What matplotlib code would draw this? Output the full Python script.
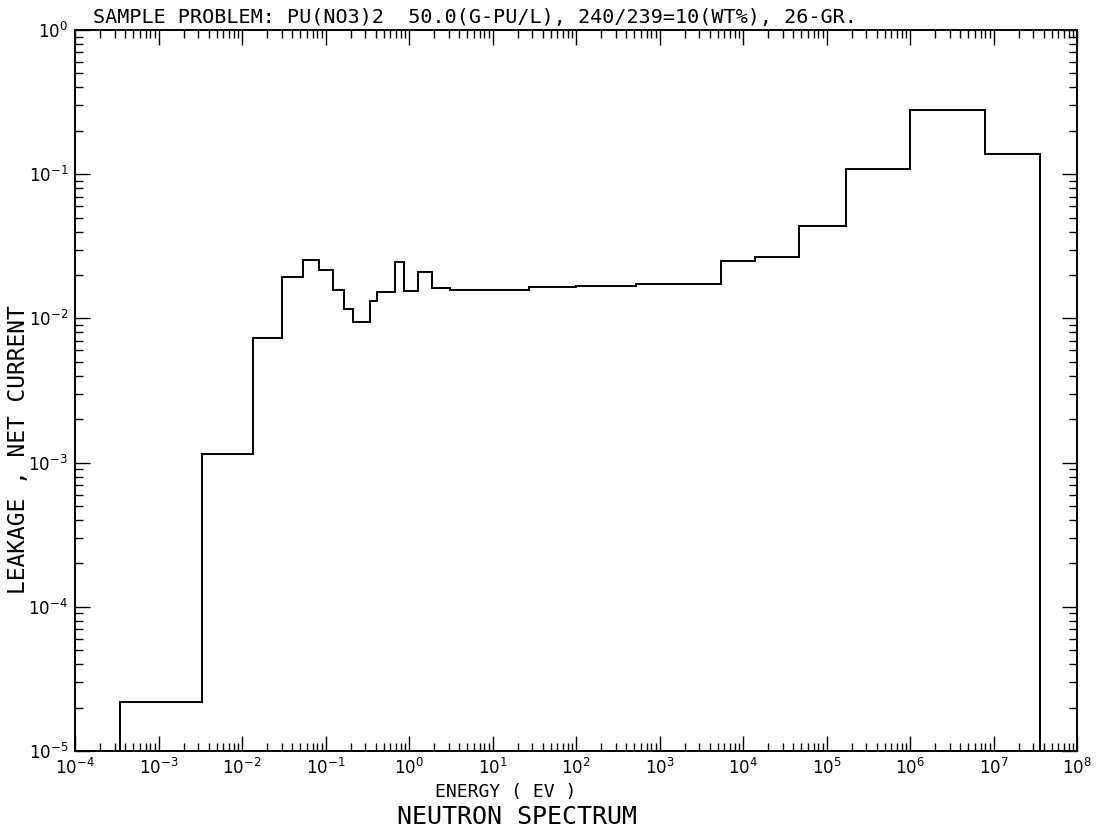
import matplotlib
matplotlib.use("Agg")
import matplotlib.pyplot as plt
import matplotlib.ticker as mticker
import numpy as np

# Group boundaries (eV) and net-current leakage per group (26 groups)
edges = [3.46e-4, 3.35e-3, 1.34e-2, 2.99e-2, 5.42e-2, 8.43e-2, 0.122, 0.167,
         0.215, 0.341, 0.417, 0.68, 0.87, 1.27, 1.87, 3.1, 10.0, 27.0, 100.0,
         520.0, 5.4e3, 1.4e4, 4.7e4, 1.7e5, 1.0e6, 8.0e6, 3.6e7]
leakage = [2.2e-5, 1.14e-3, 7.3e-3, 1.95e-2, 2.55e-2, 2.18e-2, 1.57e-2, 1.17e-2,
           9.5e-3, 1.32e-2, 1.53e-2, 2.46e-2, 1.55e-2, 2.1e-2, 1.62e-2, 1.58e-2,
           1.58e-2, 1.65e-2, 1.68e-2, 1.74e-2, 2.5e-2, 2.65e-2, 4.4e-2, 0.108,
           0.28, 0.138]

x_decades = list(range(-4, 9))
y_decades = list(range(-5, 1))

title = "SAMPLE PROBLEM: PU(NO3)2  50.0(G-PU/L), 240/239=10(WT%), 26-GR."
xlabel = "ENERGY ( EV )"
ylabel = "LEAKAGE , NET CURRENT"
caption = "NEUTRON SPECTRUM"

plt.rcParams['font.family'] = ['DejaVu Sans Mono', 'DejaVu Sans']
plt.rcParams['mathtext.fontset'] = 'dejavusans'

W, H = 1102, 840
fig = plt.figure(figsize=(W / 100, H / 100), dpi=100)
left, right, top, bottom = 75, 1077, 30, 751
ax = fig.add_axes([left / W, 1 - bottom / H, (right - left) / W, (bottom - top) / H])

ax.stairs(leakage, edges, baseline=1e-7, color='black', linewidth=1.4)
ax.set_xscale('log')
ax.set_yscale('log')
ax.set_xlim(10.0 ** x_decades[0], 10.0 ** x_decades[-1])
ax.set_ylim(10.0 ** y_decades[0], 10.0 ** y_decades[-1])

def minors(decs):
    return [m * 10.0 ** d for d in decs[:-1] for m in range(2, 10)]

ax.xaxis.set_major_locator(mticker.FixedLocator([10.0 ** d for d in x_decades]))
ax.xaxis.set_minor_locator(mticker.FixedLocator(minors(x_decades)))
ax.yaxis.set_major_locator(mticker.FixedLocator([10.0 ** d for d in y_decades]))
ax.yaxis.set_minor_locator(mticker.FixedLocator(minors(y_decades)))
ax.xaxis.set_major_formatter(mticker.FixedFormatter([r"$10^{%d}$" % d for d in x_decades]))
ax.yaxis.set_major_formatter(mticker.FixedFormatter([r"$10^{%d}$" % d for d in y_decades]))
ax.xaxis.set_minor_formatter(mticker.NullFormatter())
ax.yaxis.set_minor_formatter(mticker.NullFormatter())

ax.tick_params(which='both', direction='in', top=True, right=True, width=1.0)
ax.tick_params(which='major', length=11, labelsize=12, pad=5)
ax.tick_params(which='minor', length=6)
for s in ax.spines.values():
    s.set_linewidth(1.4)

fig.text(93 / W, 1 - 18 / H, title, ha='left', va='center', fontsize=14.5)
fig.text(506 / W, 1 - 792 / H, xlabel, ha='center', va='center', fontsize=13)
fig.text(517 / W, 1 - 817 / H, caption, ha='center', va='center', fontsize=18)
fig.text(19 / W, 1 - 450 / H, ylabel, ha='center', va='center', rotation=90, fontsize=16.5)

fig.savefig("out.png", dpi=100)
